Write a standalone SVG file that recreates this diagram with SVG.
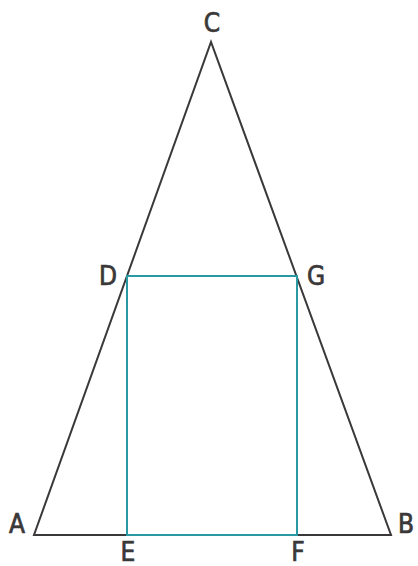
<svg xmlns="http://www.w3.org/2000/svg" width="418" height="566" viewBox="0 0 418 566">
<style>
.tri{fill:none;stroke:#3a3838;stroke-width:2;stroke-linejoin:miter}
.sq{fill:none;stroke:#2a9aa2;stroke-width:2}
.lbl{font-family:"Liberation Sans Narrow","DejaVu Sans Condensed","Liberation Sans",sans-serif;font-size:26px;font-weight:normal;fill:#3a3838;stroke:#3a3838;stroke-width:0.7;text-anchor:middle}
</style>
<rect width="418" height="566" fill="#ffffff"/>
<g id="connectors">
<polygon class="tri" points="34,535 391,535 211,42"/>
<rect class="sq" x="127" y="276" width="170" height="259"/>
</g>
<g id="A"><text class="lbl" x="17" y="533">A</text></g>
<g id="B"><text class="lbl" x="406" y="533">B</text></g>
<g id="C"><text class="lbl" x="212" y="32">C</text></g>
<g id="D"><text class="lbl" x="108" y="285">D</text></g>
<g id="G"><text class="lbl" x="316" y="285">G</text></g>
<g id="E"><text class="lbl" x="128" y="561">E</text></g>
<g id="F"><text class="lbl" x="298" y="561">F</text></g>
</svg>
